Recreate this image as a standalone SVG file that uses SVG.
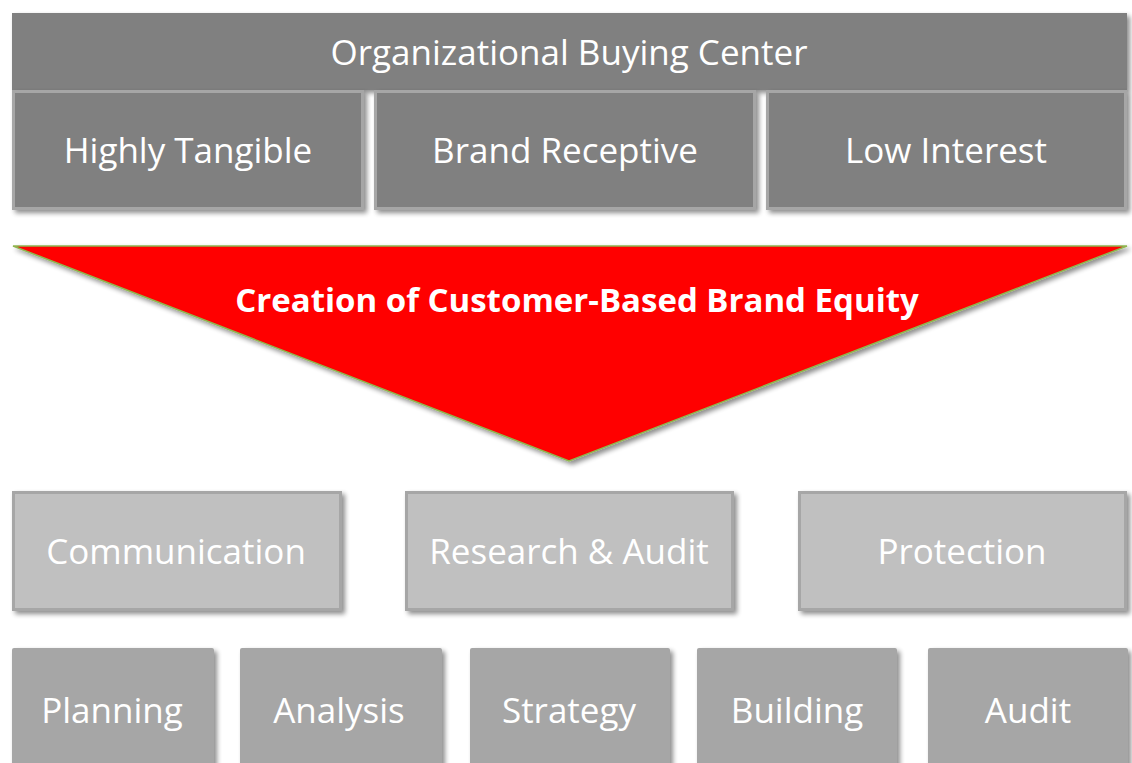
<svg xmlns="http://www.w3.org/2000/svg" width="1132" height="763" viewBox="0 0 1132 763">
<defs>
<filter id="sh" x="-10%" y="-10%" width="125%" height="130%">
<feGaussianBlur in="SourceAlpha" stdDeviation="2.5"/>
<feOffset dx="3" dy="3" result="b"/>
<feComponentTransfer><feFuncA type="linear" slope="0.45"/></feComponentTransfer>
<feMerge><feMergeNode/><feMergeNode in="SourceGraphic"/></feMerge>
</filter>
</defs>
<style>
.t{font-family:"Open Sans","Noto Sans",sans-serif;fill:#ffffff;text-anchor:middle;font-size:35px}
.top{fill:#808080}
.sub{fill:#808080;stroke:#a6a6a6;stroke-width:3}
.mid{fill:#c0c0c0;stroke:#a6a6a6;stroke-width:3}
.bot{fill:#a6a6a6}
</style>
<rect width="1132" height="763" fill="#ffffff"/>
<g id="buying-center"><rect class="top" x="12" y="13" width="1115" height="77" filter="url(#sh)"/><text class="t" x="569" y="65">Organizational Buying Center</text></g>
<g id="highly-tangible"><rect class="sub" x="13.5" y="91.5" width="349" height="117" filter="url(#sh)"/><text class="t" x="188" y="163">Highly Tangible</text></g>
<g id="brand-receptive"><rect class="sub" x="375.5" y="91.5" width="379" height="117" filter="url(#sh)"/><text class="t" x="565" y="163">Brand Receptive</text></g>
<g id="low-interest"><rect class="sub" x="767.5" y="91.5" width="358" height="117" filter="url(#sh)"/><text class="t" x="946" y="163">Low Interest</text></g>
<g id="creation"><polygon points="13,246 1127,246 569,461" fill="#ff0000" stroke="#8fb550" stroke-width="1.5" filter="url(#sh)"/><text class="t" x="577" y="312" style="font-weight:bold;font-size:33px">Creation of Customer-Based Brand Equity</text></g>
<g id="communication"><rect class="mid" x="13.5" y="492.5" width="327" height="117" filter="url(#sh)"/><text class="t" x="176" y="564">Communication</text></g>
<g id="research-audit"><rect class="mid" x="406.5" y="492.5" width="326" height="117" filter="url(#sh)"/><text class="t" x="569" y="564">Research &amp; Audit</text></g>
<g id="protection"><rect class="mid" x="799.5" y="492.5" width="326" height="117" filter="url(#sh)"/><text class="t" x="962" y="564">Protection</text></g>
<g id="planning"><rect class="bot" x="12" y="648" width="202" height="125" rx="2" filter="url(#sh)"/><text class="t" x="112" y="723">Planning</text></g>
<g id="analysis"><rect class="bot" x="240" y="648" width="202" height="125" rx="2" filter="url(#sh)"/><text class="t" x="339" y="723">Analysis</text></g>
<g id="strategy"><rect class="bot" x="470" y="648" width="200" height="125" rx="2" filter="url(#sh)"/><text class="t" x="569" y="723">Strategy</text></g>
<g id="building"><rect class="bot" x="697" y="648" width="200" height="125" rx="2" filter="url(#sh)"/><text class="t" x="797" y="723">Building</text></g>
<g id="audit"><rect class="bot" x="928" y="648" width="200" height="125" rx="2" filter="url(#sh)"/><text class="t" x="1028" y="723">Audit</text></g>
<g id="connectors"/>
</svg>
